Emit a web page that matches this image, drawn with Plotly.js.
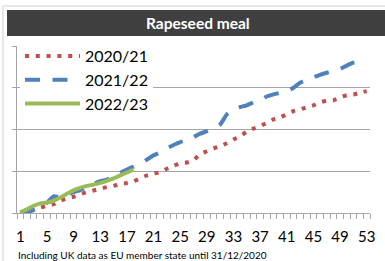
<!DOCTYPE html>
<html>
<head>
<meta charset="utf-8">
<script src="https://cdn.plot.ly/plotly-3.0.1.min.js"></script>
<style>html,body{margin:0;padding:0;background:#fff;}#chart{width:385px;height:261px;}</style>
</head>
<body>
<div id="chart"></div>
<script>
var weeks = [];
for (var i = 1; i <= 53; i++) weeks.push(i);
var tickWeeks = [1,5,9,13,17,21,25,29,33,37,41,45,49,53];
var seriesNames = ["2020/21", "2021/22", "2022/23"];

var s2020 = [0.00,0.05,0.10,0.13,0.17,0.21,0.29,0.35,0.39,0.45,0.50,0.54,0.58,0.62,0.65,0.69,0.72,0.76,0.83,0.90,
             0.94,0.98,1.06,1.13,1.19,1.21,1.27,1.41,1.48,1.55,1.60,1.67,1.76,1.84,1.95,2.02,2.08,2.16,2.24,2.28,
             2.37,2.44,2.48,2.53,2.58,2.65,2.69,2.70,2.77,2.82,2.84,2.88,2.92];
var s2021 = [0.00,0.02,0.07,0.15,0.25,0.40,0.38,0.44,0.50,0.55,0.62,0.70,0.76,0.80,0.86,0.96,1.04,1.11,1.18,1.28,
             1.38,1.45,1.55,1.63,1.70,1.74,1.82,1.90,1.96,2.02,2.12,2.36,2.49,2.54,2.58,2.65,2.70,2.79,2.84,2.88,
             2.91,3.00,3.12,3.19,3.25,3.31,3.36,3.41,3.45,3.53,3.60,3.63,3.66];
var s2022 = [0.02,0.09,0.17,0.23,0.25,0.29,0.37,0.46,0.54,0.60,0.65,0.68,0.72,0.77,0.83,0.90,0.97,1.04];

var W = 385, H = 261, L = 17, R = 15, T = 46, B = 48;
var pw = W - L - R, ph = H - T - B;
function px(x){ return (x - L) / pw; }
function py(y){ return (H - B - y) / ph; }

var traces = [
  {x: weeks, y: s2020, name: seriesNames[0], type: 'scatter', mode: 'lines',
   line: {color: '#C0504D', width: 4, dash: '4px,6.8px', shape: 'spline', smoothing: 0.5}},
  {x: weeks, y: s2021, name: seriesNames[1], type: 'scatter', mode: 'lines',
   line: {color: '#4F81BD', width: 4, dash: '15px,12.5px', shape: 'spline', smoothing: 0.5}},
  {x: weeks.slice(0, s2022.length), y: s2022, name: seriesNames[2], type: 'scatter', mode: 'lines',
   line: {color: '#9BBB59', width: 4, shape: 'spline', smoothing: 0.5}}
];

var layout = {
  width: W, height: H,
  margin: {l: L, r: R, t: T, b: B, pad: 0},
  paper_bgcolor: '#ffffff', plot_bgcolor: '#ffffff',
  font: {family: 'Lato, "Liberation Sans", sans-serif', color: '#000000'},
  showlegend: true,
  legend: {x: px(20), y: py(39), xanchor: 'left', yanchor: 'top', bgcolor: '#ffffff',
           font: {size: 16, color: '#000000'}, borderwidth: 0, tracegroupgap: 0, itemwidth: 55},
  xaxis: {range: [0.5, 53.5], tickmode: 'array', tickvals: tickWeeks, ticktext: tickWeeks.map(String),
          ticks: '', showgrid: false, zeroline: false, showline: true, linecolor: '#A6A6A6', linewidth: 1,
          tickfont: {size: 15, color: '#000000'}, ticklabelstandoff: 10,
          minor: {tick0: 0.5, dtick: 1, ticks: 'outside', ticklen: 5, tickcolor: '#A6A6A6', tickwidth: 1, showgrid: false},
          fixedrange: true},
  yaxis: {range: [0, 4], dtick: 1, tick0: 0, showticklabels: false, ticks: 'outside', ticklen: 4,
          tickcolor: '#A6A6A6', showgrid: true, gridcolor: '#A6A6A6', gridwidth: 1, zeroline: false,
          showline: true, linecolor: '#A6A6A6', linewidth: 1, fixedrange: true},
  shapes: [
    {type: 'rect', xref: 'paper', yref: 'paper', x0: px(7), x1: px(386), y0: py(36), y1: py(10),
     fillcolor: '#404040', line: {width: 0}, layer: 'below'},
    {type: 'line', xref: 'paper', yref: 'paper', x0: px(3), x1: px(386), y0: py(6), y1: py(6),
     line: {color: '#D0D0D0', width: 1}},
    {type: 'line', xref: 'paper', yref: 'paper', x0: px(3), x1: px(3), y0: py(6), y1: py(262),
     line: {color: '#D0D0D0', width: 1}}
  ],
  annotations: [
    {text: '<b>Rapeseed meal</b>', xref: 'paper', yref: 'paper', x: px(198), y: py(23),
     xanchor: 'center', yanchor: 'middle', showarrow: false, font: {size: 15.5, color: '#ffffff'}},
    {text: 'Including UK data as EU member state until 31/12/2020', xref: 'paper', yref: 'paper',
     x: px(16), y: py(254.5), xanchor: 'left', yanchor: 'middle', showarrow: false,
     font: {size: 10, color: '#000000'}}
  ]
};

Plotly.newPlot('chart', traces, layout, {displayModeBar: false, staticPlot: true});
</script>
</body>
</html>
